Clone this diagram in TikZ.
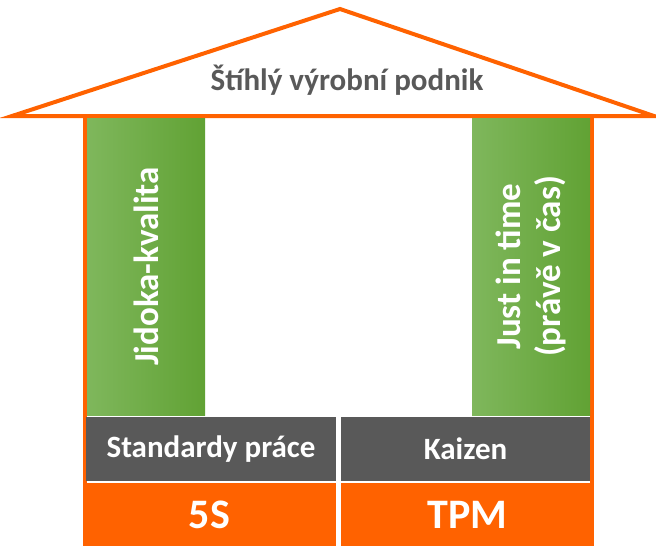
\documentclass[tikz,border=0pt]{standalone}
\usepackage{fontspec}
\setmainfont{Carlito}
\definecolor{roofor}{RGB}{255,98,0}
\definecolor{boxgray}{RGB}{89,89,89}
\definecolor{txtgray}{RGB}{89,89,89}
\definecolor{grL}{RGB}{127,183,92}
\definecolor{grR}{RGB}{97,162,52}
\begin{document}
\begin{tikzpicture}[x=1pt,y=-1pt,
  box/.style={draw=none,inner sep=0pt,outer sep=0pt,text=white,font=\bfseries\fontsize{31}{36}\selectfont},
  graybox/.style={box,fill=boxgray,minimum height=64pt},
  orbox/.style={box,fill=roofor,minimum height=63pt,font=\bfseries\fontsize{42}{46}\selectfont},
  greenbox/.style={box,left color=grL,right color=grR,minimum height=118pt,minimum width=297pt,rotate=90,font=\bfseries\fontsize{35}{40}\selectfont,align=center}
]
\useasboundingbox (0,0) rectangle (656,546);
% roof
\draw[roofor,line width=4pt,line join=miter] (12,116) -- (340,9) -- (654,116) -- cycle;
\node[inner sep=0pt,text=txtgray,font=\bfseries\fontsize{31}{36}\selectfont] (roof) at (347,80) {Štíhlý výrobní podnik};
% pillar lines
\fill[roofor] (83,116) rectangle (87,546);
\fill[roofor] (590,116) rectangle (594,546);
% green columns
\node[greenbox] (jid) at (146,266.5) {Jidoka-kvalita};
\node[greenbox] (jit) at (531,266.5) {Just in time\\(právě v čas)};
% gray boxes
\node[graybox,minimum width=250pt] (std) at (211,449) {Standardy práce};
\node[graybox,minimum width=249pt] (kai) at (465.5,449) {Kaizen};
% orange boxes
\node[orbox,minimum width=253pt] (fs) at (209.5,514.5) {5S};
\node[orbox,minimum width=253pt] (tpm) at (467.5,514.5) {TPM};
\end{tikzpicture}
\end{document}
